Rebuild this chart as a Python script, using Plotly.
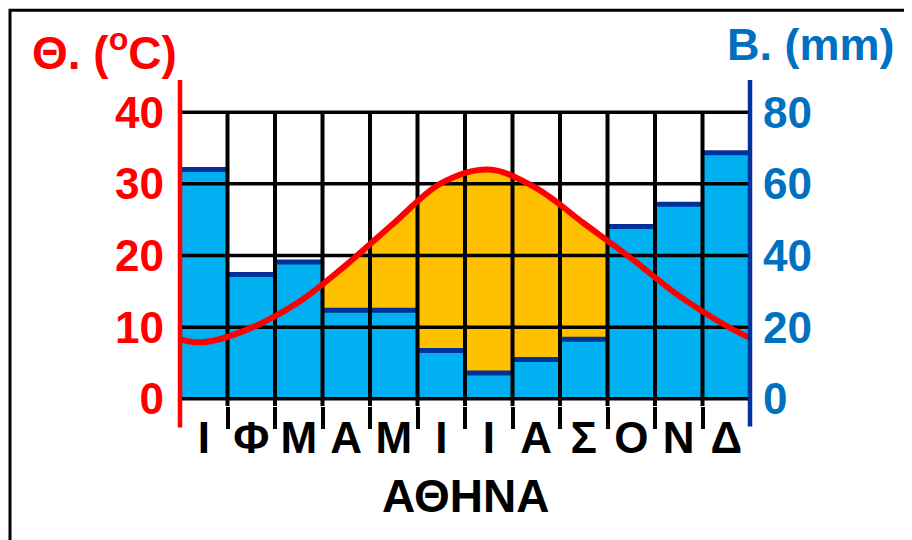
import plotly.graph_objects as go

# ---- data ----
months = ["Ι", "Φ", "Μ", "Α", "Μ", "Ι", "Ι", "Α", "Σ", "Ο", "Ν", "Δ"]
precip_mm = [64.0, 34.7, 38.2, 24.7, 24.7, 13.5, 7.2, 11.0, 16.6, 48.1, 54.3, 68.7]
temp_c = [7.9, 9.9, 13.5, 18.7, 24.5, 30.1, 32.0, 29.4, 24.5, 19.6, 14.4, 10.2]
temp_edges = [8.3, 8.5]          # curve value at the left and right frame edges
temp_ticks = [0, 10, 20, 30, 40]
precip_ticks = [0, 20, 40, 60, 80]
station = "ΑΘΗΝΑ"

# ---- derived positions ----
n = len(months)
xc = [i + 0.5 for i in range(n)]
temp_range = [-1, 41]
precip_range = [2 * v for v in temp_range]

tx = [0] + xc + [n]
ty = [temp_edges[0]] + temp_c + [temp_edges[1]]

FONT = "Liberation Sans, Arial, sans-serif"
RED = "#FF0000"
BLUE_TXT = "#0070C0"
DARK_BLUE = "#003399"
LIGHT_BLUE = "#00B0F0"
ORANGE = "#FFC000"

fig = go.Figure()

# orange dry-season area (under temperature curve, covered by bars)
fig.add_trace(go.Scatter(x=tx, y=ty, mode="lines",
                         line=dict(shape="spline", width=0, color=ORANGE),
                         fill="tozeroy", fillcolor=ORANGE,
                         yaxis="y", hoverinfo="skip", showlegend=False))

# precipitation bars
fig.add_trace(go.Bar(x=xc, y=precip_mm, width=1,
                     marker=dict(color=LIGHT_BLUE, line=dict(width=0)),
                     yaxis="y2", showlegend=False))

# dark caps on bars
bx, by = [], []
for i, v in enumerate(precip_mm):
    bx += [i, i + 1, None]
    by += [v, v, None]
fig.add_trace(go.Scatter(x=bx, y=by, mode="lines",
                         line=dict(color=DARK_BLUE, width=5),
                         yaxis="y2", hoverinfo="skip", showlegend=False))

# black grid drawn above bars
gx, gy = [], []
for t in temp_ticks:
    gx += [0, n, None]
    gy += [t, t, None]
fig.add_trace(go.Scatter(x=gx, y=gy, mode="lines", line=dict(color="black", width=3.5),
                         yaxis="y3", hoverinfo="skip", showlegend=False))
vx, vy = [], []
for b in range(1, n):
    vx += [b, b, None]
    vy += [temp_range[0], temp_ticks[-1], None]
fig.add_trace(go.Scatter(x=vx, y=vy, mode="lines", line=dict(color="black", width=4),
                         yaxis="y3", hoverinfo="skip", showlegend=False))

# temperature curve
fig.add_trace(go.Scatter(x=tx, y=ty, mode="lines",
                         line=dict(shape="spline", width=6, color=RED),
                         yaxis="y3", hoverinfo="skip", showlegend=False))

W, H = 912, 540
OFF = 8  # page offset of the figure inside the browser window
ml, mr, mt, mb = 180 - OFF, W - (750 - OFF), 105 - OFF, H - (406.5 - OFF)
pw, ph = W - ml - mr, H - mt - mb


def px(xp):
    return (xp - OFF - ml) / pw


def py(yp):
    return (H - mb - (yp - OFF)) / ph


fig.update_layout(
    width=W, height=H,
    margin=dict(l=ml, r=mr, t=mt, b=mb, pad=0),
    paper_bgcolor="white", plot_bgcolor="white",
    showlegend=False, bargap=0, barmode="overlay",
    font=dict(family=FONT),
    xaxis=dict(range=[0, n], tickmode="array", tickvals=xc, ticktext=months,
               ticks="", showgrid=False, zeroline=False, showline=False,
               tickfont=dict(size=44, color="black", family=FONT, weight="bold"),
               ticklabelstandoff=2,
               minor=dict(tickmode="array", tickvals=list(range(1, n)), ticks="outside",
                          ticklen=22, tickwidth=4, tickcolor="black", showgrid=False)),
    yaxis=dict(range=temp_range, tickmode="array", tickvals=temp_ticks,
               showgrid=False, zeroline=False, showline=False, ticks="",
               ticklabelstandoff=15,
               tickfont=dict(size=44, color=RED, family=FONT, weight="bold")),
    yaxis2=dict(range=precip_range, tickmode="array", tickvals=precip_ticks,
                overlaying="y", side="right", showgrid=False, zeroline=False,
                showline=False, ticks="", ticklabelstandoff=12,
                tickfont=dict(size=44, color=BLUE_TXT, family=FONT, weight="bold")),
    yaxis3=dict(range=temp_range, overlaying="y", visible=False,
                showgrid=False, zeroline=False),
    shapes=[
        dict(type="rect", xref="paper", yref="paper", x0=px(10), x1=2, y0=-2, y1=py(10),
             line=dict(color="black", width=3), fillcolor="rgba(0,0,0,0)", layer="above"),
        dict(type="line", xref="paper", yref="paper", x0=0, x1=0, y0=py(428), y1=py(80),
             line=dict(color=RED, width=4.5), layer="above"),
        dict(type="line", xref="paper", yref="paper", x0=1, x1=1, y0=py(427), y1=py(80),
             line=dict(color=DARK_BLUE, width=4.5), layer="above"),
    ],
    annotations=[
        dict(text="Θ. (<sup>o</sup>C)", xref="paper", yref="paper", x=px(30), y=py(81),
             xanchor="left", yanchor="bottom", showarrow=False,
             font=dict(size=46, color=RED, family=FONT, weight="bold")),
        dict(text="B. (mm)", xref="paper", yref="paper", x=px(897), y=py(72),
             xanchor="right", yanchor="bottom", showarrow=False,
             font=dict(size=45, color=BLUE_TXT, family=FONT, weight="bold")),
        dict(text=station, xref="paper", yref="paper", x=0.5, y=py(497),
             xanchor="center", yanchor="middle", showarrow=False,
             font=dict(size=46, color="black", family=FONT, weight="bold")),
    ],
)

fig.write_html("out.html")
